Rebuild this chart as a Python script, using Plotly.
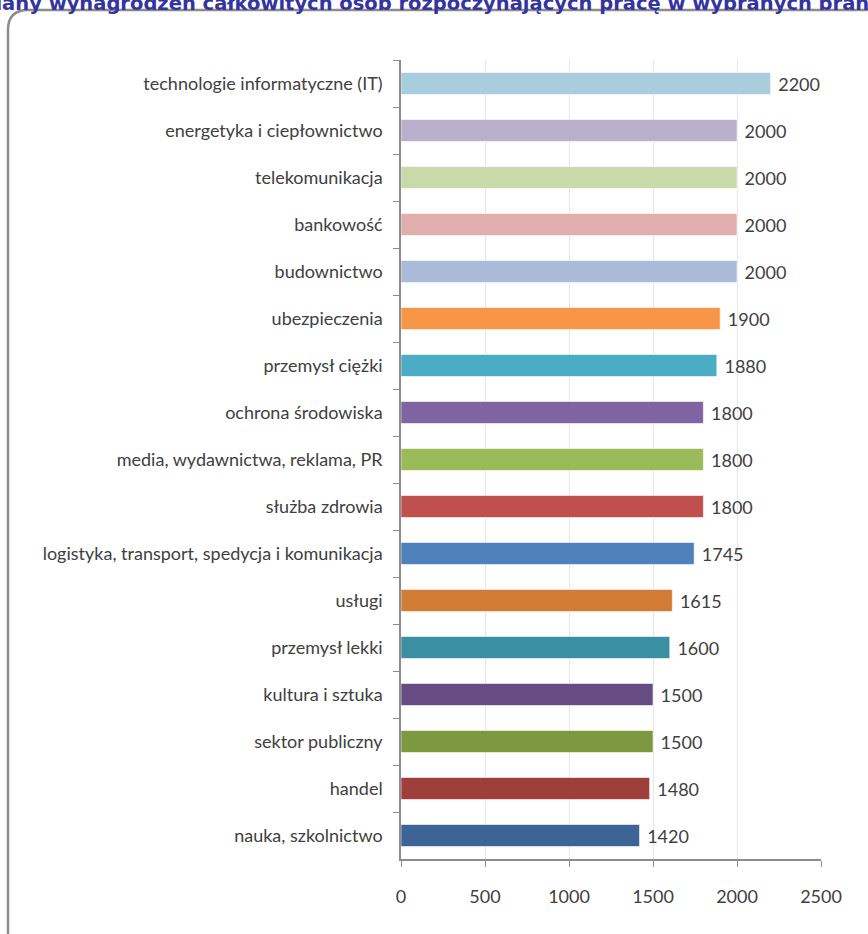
import plotly.graph_objects as go

title_text = "Mediany wynagrodzeń całkowitych osób rozpoczynających pracę w wybranych branżach"

categories = [
    "technologie informatyczne (IT)",
    "energetyka i ciepłownictwo",
    "telekomunikacja",
    "bankowość",
    "budownictwo",
    "ubezpieczenia",
    "przemysł ciężki",
    "ochrona środowiska",
    "media, wydawnictwa, reklama, PR",
    "służba zdrowia",
    "logistyka, transport, spedycja i komunikacja",
    "usługi",
    "przemysł lekki",
    "kultura i sztuka",
    "sektor publiczny",
    "handel",
    "nauka, szkolnictwo",
]
values = [2200, 2000, 2000, 2000, 2000, 1900, 1880, 1800, 1800, 1800,
          1745, 1615, 1600, 1500, 1500, 1480, 1420]
colors = ["#A8CEDE", "#B9B0CC", "#C9D9AA", "#E0AFAD", "#AABBDA", "#F79646",
          "#4BACC6", "#8064A2", "#9BBB59", "#C0504D", "#4F81BD", "#D27B34",
          "#3A8FA3", "#664C83", "#7C9841", "#9E3F3C", "#3C6596"]
x_ticks = [0, 500, 1000, 1500, 2000, 2500]

W, H = 868, 934
L, R, T, B = 401, 47, 60, 75
pw, ph = W - L - R, H - T - B


def px(x):
    return (x - L) / pw


def py(y):
    return (H - B - y) / ph


FONT = "Lato"
FS = 18

fig = go.Figure()
fig.add_trace(go.Bar(
    y=categories, x=values, orientation="h",
    marker=dict(color=colors, line=dict(color="rgba(255,255,255,0.6)", width=1)),
    width=0.47,
    text=[str(v) for v in values], texttemplate="\u00a0%{text}", textposition="outside",
    textfont=dict(family=FONT, size=FS, color="#404040"),
    cliponaxis=False,
))

r = 20
path = (f"M {px(8)} {py(1200)} L {px(8)} {py(10 + r)} "
        f"Q {px(8)} {py(10)} {px(8 + r)} {py(10)} L {px(1200)} {py(10)}")

fig.update_layout(
    width=W, height=H,
    margin=dict(l=L, r=R, t=T, b=B),
    paper_bgcolor="white", plot_bgcolor="white",
    showlegend=False,
    title=dict(text=title_text, x=0.5, xanchor="center", y=1 - 3 / H, yanchor="middle",
               yref="container",
               font=dict(family="DejaVu Sans", size=19.5, color="#3434A0", weight="bold")),
    shapes=[dict(type="path", path=path, xref="paper", yref="paper",
                 line=dict(color="#8C8C8C", width=2.5), layer="below")],
    xaxis=dict(range=[0, 2500], tickvals=x_ticks, ticktext=[str(t) for t in x_ticks],
               showgrid=True, gridcolor="#E6E6E6", gridwidth=1,
               showline=True, linecolor="#8C8C8C", linewidth=1.5,
               ticks="outside", ticklen=6, tickcolor="#8C8C8C",
               ticklabelstandoff=15, zeroline=False,
               tickfont=dict(family=FONT, size=FS, color="#404040")),
    yaxis=dict(autorange="reversed", showline=True, linecolor="#8C8C8C", linewidth=1.5,
               ticks="outside", ticklen=6, tickcolor="#8C8C8C", tickson="boundaries",
               showgrid=False, ticklabelstandoff=13,
               tickfont=dict(family=FONT, size=FS, color="#404040")),
)

fig.write_html(
    "out.html",
    config={"displayModeBar": False},
    post_script="document.body.style.margin='0';document.body.style.overflow='hidden';",
)
